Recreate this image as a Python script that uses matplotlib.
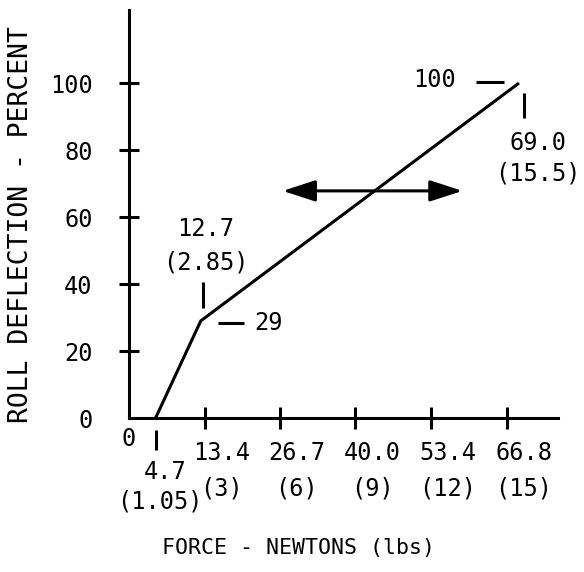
import matplotlib.pyplot as plt
import matplotlib.transforms as mtransforms

# roll deflection vs. force (newtons), piecewise line
force_n = [4.7, 12.7, 69.0]
deflection_pct = [0, 29, 100]

xtick_n = [13.4, 26.7, 40.0, 53.4, 66.8]
xtick_lbs = [3, 6, 9, 12, 15]
yticks = [0, 20, 40, 60, 80, 100]

start_lbs = 1.05
knee_lbs = 2.85
end_lbs = 15.5

# double headed arrow (force range, deflection level)
arrow_x = (27.2, 59.0)
arrow_y = 67.8

FONT = "DejaVu Sans Mono"
plt.rcParams["font.family"] = FONT

fig = plt.figure(figsize=(5.84, 5.72), dpi=100)
ax = fig.add_axes([129 / 584, 154 / 572, 429 / 584, 408 / 572])
ax.set_xlim(0, 75.9)
ax.set_ylim(0, 121.8)

for s in ["top", "right"]:
    ax.spines[s].set_visible(False)
for s in ["left", "bottom"]:
    ax.spines[s].set_linewidth(2.2)

ax.plot(force_n, deflection_pct, color="black", lw=2.2, solid_capstyle="butt")

# x ticks: newtons on the major ticks, pounds underneath on minor ticks
ax.xaxis.remove_overlapping_locs = False
ax.set_xticks(xtick_n)
ax.set_xticklabels([f"{n:.1f}" for n in xtick_n], fontsize=17)
ax.set_xticks(xtick_n, minor=True)
ax.set_xticklabels([f"({l})" for l in xtick_lbs], minor=True, fontsize=17)
ax.tick_params(axis="x", which="major", direction="inout", length=16.5,
               width=2.2, pad=8)
ax.tick_params(axis="x", which="minor", length=0, pad=42)
shift = mtransforms.ScaledTranslation(0.17, 0, fig.dpi_scale_trans)
for lbl in ax.get_xticklabels() + ax.get_xticklabels(minor=True):
    lbl.set_transform(lbl.get_transform() + shift)

ax.set_yticks(yticks)
ax.set_yticklabels([str(v) for v in yticks], fontsize=17)
ax.tick_params(axis="y", direction="inout", length=14.4, width=2.2, pad=19)
ax.yaxis.get_major_ticks()[0].tick1line.set_visible(False)

# zero on the force axis
ax.annotate("0", xy=(0, 0), xytext=(0, -21), textcoords="offset pixels",
            ha="center", va="center", fontsize=17)

# marks around the points
def mark(x, y, dx, dy, marker, size):
    tr = mtransforms.offset_copy(ax.transData, fig=fig, x=dx, y=dy, units="dots")
    ax.plot([x], [y], marker=marker, markersize=size, mew=2.2, color="black",
            transform=tr, clip_on=False)

def note(text, x, y, dx, dy, **kw):
    ax.annotate(text, xy=(x, y), xytext=(dx, dy), textcoords="offset pixels",
                ha="center", va="center", fontsize=17, **kw)

# start point
mark(force_n[0], deflection_pct[0], 0, -22, "|", 14.4)
note(f"{force_n[0]}", force_n[0], deflection_pct[0], 10, -54)
note(f"({start_lbs})", force_n[0], deflection_pct[0], 4, -83)

# knee
mark(force_n[1], deflection_pct[1], 2, 26, "|", 19)
note(f"{force_n[1]}\n({knee_lbs})", force_n[1], deflection_pct[1], 5, 75,
     linespacing=1.5)
mark(force_n[1], deflection_pct[1], 30, -2, "_", 19)
note(f"{deflection_pct[1]}", force_n[1], deflection_pct[1], 68, -2)

# end point
mark(force_n[2], deflection_pct[2], 5, -22, "|", 18)
note(f"{force_n[2]:.1f}\n({end_lbs})", force_n[2], deflection_pct[2], 19, -75,
     linespacing=1.35)
mark(force_n[2], deflection_pct[2], -29, 1, "_", 20)
note(f"{deflection_pct[2]}", force_n[2], deflection_pct[2], -84, 3)

# range arrow
ax.annotate("", xy=(arrow_x[0], arrow_y), xytext=(arrow_x[1], arrow_y),
            arrowprops=dict(arrowstyle="<|-|>,head_length=2.0,head_width=0.65",
                            color="black", lw=2.2, shrinkA=0, shrinkB=0))

fig.text(21 / 584, 1 - 225 / 572, "ROLL DEFLECTION - PERCENT", rotation=90,
         ha="center", va="center", fontsize=19)
fig.text(299 / 584, 1 - 548 / 572, "FORCE - NEWTONS (lbs)",
         ha="center", va="center", fontsize=15.5)

fig.savefig("out.png", dpi=100)
